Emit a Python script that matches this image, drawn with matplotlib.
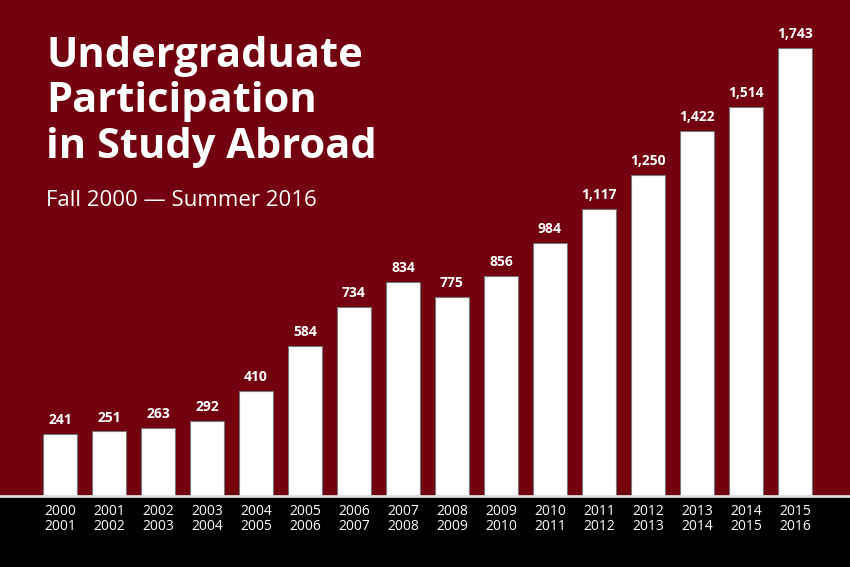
#!/usr/bin/env python3
import matplotlib
matplotlib.use('Agg')
import matplotlib.pyplot as plt

# 데이터
years = ['2000\n2001', '2001\n2002', '2002\n2003', '2003\n2004', '2004\n2005',
         '2005\n2006', '2006\n2007', '2007\n2008', '2008\n2009', '2009\n2010',
         '2010\n2011', '2011\n2012', '2012\n2013', '2013\n2014', '2014\n2015',
         '2015\n2016']
students = [241, 251, 263, 292, 410, 584, 734, 834, 775, 856, 984,
            1117, 1250, 1422, 1514, 1743]
title_lines = ['Undergraduate', 'Participation', 'in Study Abroad']

RED = '#72000f'
plt.rcParams['font.family'] = ['Open Sans', 'DejaVu Sans']

fig = plt.figure(figsize=(8.5, 5.67), dpi=100)
fig.patch.set_facecolor('black')

ax = fig.add_axes([0, 1 - 496 / 567, 1, 496 / 567])
ax.set_facecolor(RED)
x = list(range(len(students)))
ax.bar(x, students, width=0.71, color='white', edgecolor='#777777',
       linewidth=0.8, zorder=2)
ax.set_xlim(-60 / 49, 790 / 49)
ax.set_ylim(0, 496 / 0.257)
ax.axhline(0, color='#dddddd', linewidth=2, zorder=3, clip_on=False)

for xi, v in zip(x, students):
    ax.annotate(f'{v:,}', (xi, v), xytext=(0, 5), textcoords='offset points',
                ha='center', va='bottom', color='white', fontsize=10,
                fontweight='bold')

ax.set_xticks(x)
ax.set_xticklabels(years, color='white', fontsize=10, linespacing=1.0)
ax.tick_params(axis='x', length=0, pad=6)
ax.set_yticks([])
for s in ax.spines.values():
    s.set_visible(False)

# 제목 (줄마다 기준선 지정)
for line, base in zip(title_lines, [67, 112.5, 158]):
    fig.text(46 / 850, 1 - base / 567, line, ha='left', va='baseline',
             color='white', fontsize=30, fontweight='bold')
fig.text(46 / 850, 1 - 206 / 567, 'Fall 2000 \u2014 Summer 2016',
         ha='left', va='baseline', color='white', fontsize=16)

fig.savefig('out.png', dpi=100, facecolor=fig.get_facecolor())
